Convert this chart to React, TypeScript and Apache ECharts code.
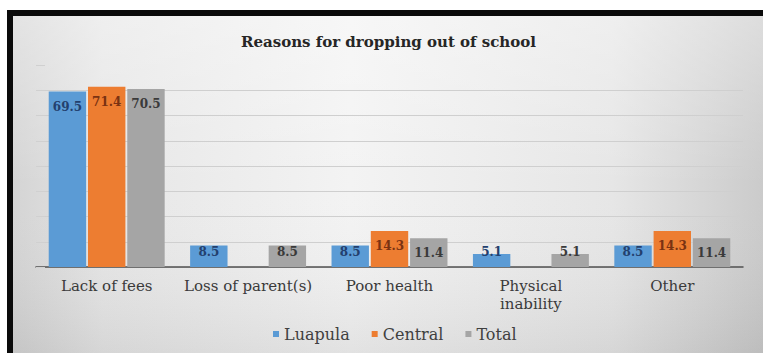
import React, { useEffect, useRef } from "react";
import * as echarts from "echarts";

// Reasons for dropping out of school, percentages by province
const categories = ["Lack of fees", "Loss of parent(s)", "Poor health", "Physical inability", "Other"];
const seriesNames = ["Luapula", "Central", "Total"];
const luapula = [69.5, 8.5, 8.5, 5.1, 8.5];
const central = [71.4, null, 14.3, null, 14.3];
const total = [70.5, 8.5, 11.4, 5.1, 11.4];
const yTicks = [0, 10, 20, 30, 40, 50, 60, 70, 80];

const barColors = ["#5b9bd5", "#ed7d31", "#a5a5a5"];
const labelColors = ["#23406e", "#7a3212", "#3a3a3a"];
const serif = "'DejaVu Serif', 'Liberation Serif', serif";

function buildSeries(name: string, values: (number | null)[], i: number) {
  return {
    name,
    type: "bar",
    barGap: "5%",
    barCategoryGap: "18%",
    itemStyle: { color: barColors[i] },
    label: {
      show: true,
      position: "insideTop",
      distance: 9,
      fontFamily: serif,
      fontSize: 12,
      fontWeight: "bold",
      color: labelColors[i],
    },
    data: values.map((v) =>
      v === null
        ? null
        : v < 10
        ? { value: v, label: { position: "insideBottom", distance: 9 } }
        : v
    ),
  };
}

export default function App() {
  const ref = useRef<HTMLDivElement>(null);

  useEffect(() => {
    if (!ref.current) return;
    const chart = echarts.init(ref.current, undefined, { renderer: "svg" });
    // last split line (at the axis maximum) is left invisible
    const splitColors = yTicks.map((t, k) => (k === yTicks.length - 1 ? "rgba(0,0,0,0)" : "#cfcfcf"));
    chart.setOption({
      animation: false,
      backgroundColor: "#ffffff",
      graphic: [
        {
          type: "rect",
          z: -10,
          silent: true,
          shape: { x: 7, y: 10, width: 756, height: 343 },
          style: { fill: "#0a0a0a" },
        },
        {
          type: "rect",
          z: -9,
          silent: true,
          shape: { x: 13, y: 16, width: 750, height: 337 },
          style: {
            fill: {
              type: "linear",
              x: 0,
              y: 0,
              x2: 1,
              y2: 0,
              colorStops: [
                { offset: 0, color: "#d4d4d4" },
                { offset: 0.12, color: "#e6e6e6" },
                { offset: 0.45, color: "#f3f3f3" },
                { offset: 0.8, color: "#e6e6e6" },
                { offset: 1, color: "#cbcbcb" },
              ],
            },
          },
        },
        {
          type: "rect",
          z: -8,
          silent: true,
          shape: { x: 13, y: 16, width: 750, height: 337 },
          style: {
            fill: {
              type: "linear",
              x: 0,
              y: 0,
              x2: 0,
              y2: 1,
              colorStops: [
                { offset: 0, color: "rgba(255,255,255,0.35)" },
                { offset: 0.5, color: "rgba(255,255,255,0)" },
                { offset: 1, color: "rgba(0,0,0,0.07)" },
              ],
            },
          },
        },
      ],
      title: {
        text: "Reasons for dropping out of school",
        left: 236,
        top: 29,
        textStyle: {
          fontFamily: serif,
          fontSize: 15,
          fontWeight: "bold",
          color: "#262626",
        },
      },
      legend: {
        data: seriesNames,
        bottom: 6,
        left: 268,
        icon: "rect",
        itemWidth: 6,
        itemHeight: 6,
        itemGap: 22,
        textStyle: { fontFamily: serif, fontSize: 16, color: "#404040" },
      },
      grid: { left: 36, right: 20, top: 65, bottom: 86 },
      xAxis: {
        type: "category",
        data: categories,
        axisLine: { lineStyle: { color: "#505050", width: 1.5 } },
        axisTick: { show: false },
        axisLabel: {
          interval: 0,
          margin: 10,
          fontFamily: serif,
          fontSize: 15,
          lineHeight: 18,
          color: "#3a3a3a",
          formatter: (v: string) => (v.length > 17 ? v.replace(" ", "\n") : v),
        },
      },
      yAxis: {
        type: "value",
        min: 0,
        max: 80,
        interval: 10,
        axisLine: { show: false },
        axisLabel: { show: false },
        axisTick: { show: true, inside: true, length: 9, lineStyle: { color: "#d0d0d0" } },
        splitLine: { lineStyle: { color: splitColors, width: 1 } },
      },
      series: [
        buildSeries(seriesNames[0], luapula, 0),
        buildSeries(seriesNames[1], central, 1),
        buildSeries(seriesNames[2], total, 2),
      ],
    });
    return () => chart.dispose();
  }, []);

  return (
    <div
      ref={ref}
      style={{ position: "absolute", left: 0, top: 0, width: 763, height: 353 }}
    />
  );
}
